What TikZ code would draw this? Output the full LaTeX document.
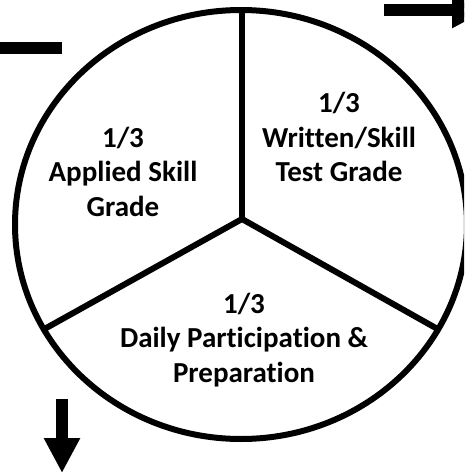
\documentclass[tikz,border=0pt]{standalone}
\usepackage{fontspec}
\setmainfont{Carlito}[Ligatures=NoCommon]
\usetikzlibrary{shapes.geometric,arrows.meta}

\tikzset{
  slice text/.style={font=\bfseries\fontsize{29}{34.5}\selectfont, align=center, inner sep=0pt},
  thick arrow/.style={line width=12pt, -{Triangle[length=35pt,width=34pt]}},
}

\begin{document}
\begin{tikzpicture}[x=1pt,y=-1pt]
				\useasboundingbox (0,0) rectangle (464,472);
				\clip (0,0) rectangle (464,472);

				\node[ellipse, draw, line width=6pt, outer sep=0pt, minimum width=452pt, minimum height=429pt] (pie) at (241,224.5) {};
				\coordinate (hub) at (242,219);

				\draw[line width=6pt] (hub |- pie.north) -- (hub);
				\draw[line width=6pt] (hub) -- (pie.208);
				\draw[line width=6pt] (hub) -- (pie.332);

				\node[slice text] (written) at (339,137) {1/3\\Written/Skill\\Test Grade};
				\node[slice text] (applied) at (123,171.5) {1/3\\Applied Skill\\Grade};
				\node[slice text] (daily) at (244,340) {1/3\\Daily Participation \&\\Preparation};

				\coordinate (bar start) at (-5,48);
				\coordinate (bar end) at (62,48);
				\draw[line width=12pt] (bar start) -- (bar end);

				\coordinate (right start) at (384,10);
				\coordinate (right tip) at (487,10);
				\draw[thick arrow] (right start) -- (right tip);

				\coordinate (down start) at (62,399);
				\coordinate (down tip) at (62,473);
				\draw[thick arrow] (down start) -- (down tip);
			\end{tikzpicture}
\end{document}
